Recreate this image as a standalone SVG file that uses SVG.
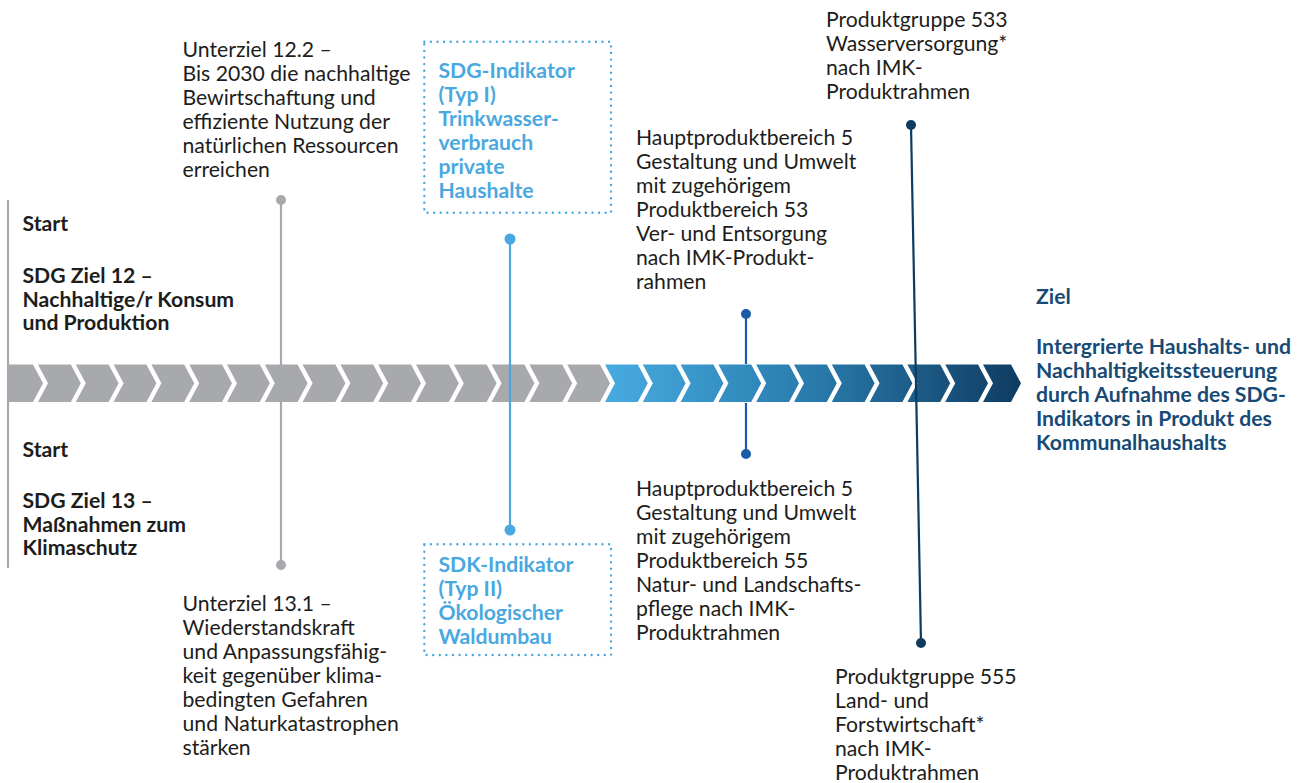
<svg xmlns="http://www.w3.org/2000/svg" width="1306" height="783" viewBox="0 0 1306 783">
<defs>
<style>
.t{font-family:Lato,"Liberation Sans",sans-serif;font-size:21.2px;fill:#1d1d1b}
.b{font-weight:700}
.lb{fill:#4aa8e0;font-weight:700}
.nv{fill:#174a75;font-weight:700}
.box{fill:none;stroke:#4aa8e0;stroke-width:2.4;stroke-dasharray:0 6.6;stroke-linecap:round}
.gray{fill:#a7a9ac}
</style>
<linearGradient id="gb" gradientUnits="userSpaceOnUse" x1="612" y1="0" x2="1026" y2="0">
<stop offset="0" stop-color="#46aadf"/>
<stop offset="0.5" stop-color="#2879aa"/>
<stop offset="1" stop-color="#0f3a5f"/>
</linearGradient>
</defs>
<rect width="1306" height="783" fill="#ffffff"/>

<g id="band">
<g class="gray">
<path d="M8 364.5H33L43 383.3L33 402H8Z"/>
<path d="M38 364.5H70.8L80.8 383.3L70.8 402H38L48 383.3Z"/>
<path d="M75.8 364.5H108.6L118.6 383.3L108.6 402H75.8L85.8 383.3Z"/>
<path d="M113.6 364.5H146.4L156.4 383.3L146.4 402H113.6L123.6 383.3Z"/>
<path d="M151.4 364.5H184.2L194.2 383.3L184.2 402H151.4L161.4 383.3Z"/>
<path d="M189.2 364.5H222L232 383.3L222 402H189.2L199.2 383.3Z"/>
<path d="M227 364.5H259.8L269.8 383.3L259.8 402H227L237 383.3Z"/>
<path d="M264.8 364.5H297.6L307.6 383.3L297.6 402H264.8L274.8 383.3Z"/>
<path d="M302.6 364.5H335.4L345.4 383.3L335.4 402H302.6L312.6 383.3Z"/>
<path d="M340.4 364.5H373.2L383.2 383.3L373.2 402H340.4L350.4 383.3Z"/>
<path d="M378.2 364.5H411L421 383.3L411 402H378.2L388.2 383.3Z"/>
<path d="M416 364.5H448.8L458.8 383.3L448.8 402H416L426 383.3Z"/>
<path d="M453.8 364.5H486.6L496.6 383.3L486.6 402H453.8L463.8 383.3Z"/>
<path d="M491.6 364.5H524.4L534.4 383.3L524.4 402H491.6L501.6 383.3Z"/>
<path d="M529.4 364.5H562.2L572.2 383.3L562.2 402H529.4L539.4 383.3Z"/>
<path d="M567.2 364.5H600L610 383.3L600 402H567.2L577.2 383.3Z"/>
</g>
<g fill="url(#gb)">
<path d="M605 364.5H637.8L647.8 383.3L637.8 402H605L615 383.3Z"/>
<path d="M642.8 364.5H675.6L685.6 383.3L675.6 402H642.8L652.8 383.3Z"/>
<path d="M680.6 364.5H713.4L723.4 383.3L713.4 402H680.6L690.6 383.3Z"/>
<path d="M718.4 364.5H751.2L761.2 383.3L751.2 402H718.4L728.4 383.3Z"/>
<path d="M756.2 364.5H789L799 383.3L789 402H756.2L766.2 383.3Z"/>
<path d="M794 364.5H826.8L836.8 383.3L826.8 402H794L804 383.3Z"/>
<path d="M831.8 364.5H864.6L874.6 383.3L864.6 402H831.8L841.8 383.3Z"/>
<path d="M869.6 364.5H902.4L912.4 383.3L902.4 402H869.6L879.6 383.3Z"/>
<path d="M907.4 364.5H940.2L950.2 383.3L940.2 402H907.4L917.4 383.3Z"/>
<path d="M945.2 364.5H978L988 383.3L978 402H945.2L955.2 383.3Z"/>
<path d="M983 364.5H1011L1021 383.3L1011 402H983L993 383.3Z"/>
</g>
</g>

<g id="connectors" fill="none" stroke-width="2.2">
<line x1="8" y1="200" x2="8" y2="568" stroke="#a7a9ac"/>
<line x1="281" y1="200" x2="281" y2="565" stroke="#a7a9ac"/>
<line x1="510" y1="239" x2="510" y2="530" stroke="#4aa8e0"/>
<line x1="746" y1="314" x2="746" y2="364" stroke="#1c5ca6"/>
<line x1="746" y1="403" x2="746" y2="454" stroke="#1c5ca6"/>
<line x1="911" y1="125" x2="921" y2="643" stroke="#0f3b5f"/>
<circle cx="281" cy="200" r="5" fill="#a7a9ac" stroke="none"/>
<circle cx="281" cy="565" r="5" fill="#a7a9ac" stroke="none"/>
<circle cx="510" cy="239" r="5.5" fill="#4aa8e0" stroke="none"/>
<circle cx="510" cy="530" r="5.5" fill="#4aa8e0" stroke="none"/>
<circle cx="746" cy="314" r="5" fill="#1c5ca6" stroke="none"/>
<circle cx="746" cy="454" r="5" fill="#1c5ca6" stroke="none"/>
<circle cx="911" cy="125" r="5" fill="#0f3b5f" stroke="none"/>
<circle cx="921" cy="643" r="5" fill="#0f3b5f" stroke="none"/>
</g>

<g id="start12">
<text class="t b" x="22.5" y="231">Start</text>
<text class="t b" x="22.5" y="283">SDG Ziel 12 –</text>
<text class="t b" x="22.5" y="306.5">Nachhaltige/r Konsum</text>
<text class="t b" x="22.5" y="330">und Produktion</text>
</g>

<g id="start13">
<text class="t b" x="22.5" y="457">Start</text>
<text class="t b" x="22.5" y="508">SDG Ziel 13 –</text>
<text class="t b" x="22.5" y="531.5">Maßnahmen zum</text>
<text class="t b" x="22.5" y="555">Klimaschutz</text>
</g>

<g id="unterziel122">
<text class="t" x="182.5" y="56.5">Unterziel 12.2 –</text>
<text class="t" x="182.5" y="80.5">Bis 2030 die nachhaltige</text>
<text class="t" x="182.5" y="104.5">Bewirtschaftung und</text>
<text class="t" x="182.5" y="128.5">effiziente Nutzung der</text>
<text class="t" x="182.5" y="152.5">natürlichen Ressourcen</text>
<text class="t" x="182.5" y="176.5">erreichen</text>
</g>

<g id="unterziel131">
<text class="t" x="182.5" y="611">Unterziel 13.1 –</text>
<text class="t" x="182.5" y="635">Wiederstandskraft</text>
<text class="t" x="182.5" y="659">und Anpassungsfähig-</text>
<text class="t" x="182.5" y="683">keit gegenüber klima-</text>
<text class="t" x="182.5" y="707">bedingten Gefahren</text>
<text class="t" x="182.5" y="731">und Naturkatastrophen</text>
<text class="t" x="182.5" y="755">stärken</text>
</g>

<g id="sdg-indikator">
<rect class="box" x="424.3" y="41.7" width="186.7" height="171"/>
<text class="t lb" x="438.5" y="78.3">SDG-Indikator</text>
<text class="t lb" x="438.5" y="102">(Typ I)</text>
<text class="t lb" x="438.5" y="126">Trinkwasser-</text>
<text class="t lb" x="438.5" y="150">verbrauch</text>
<text class="t lb" x="438.5" y="174">private</text>
<text class="t lb" x="438.5" y="198">Haushalte</text>
</g>

<g id="sdk-indikator">
<rect class="box" x="424.3" y="544.3" width="186.7" height="110.7"/>
<text class="t lb" x="438.5" y="571.5">SDK-Indikator</text>
<text class="t lb" x="438.5" y="595.5">(Typ II)</text>
<text class="t lb" x="438.5" y="619.5">Ökologischer</text>
<text class="t lb" x="438.5" y="643.5">Waldumbau</text>
</g>

<g id="hpb5-53">
<text class="t" x="636" y="145">Hauptproduktbereich 5</text>
<text class="t" x="636" y="169">Gestaltung und Umwelt</text>
<text class="t" x="636" y="193">mit zugehörigem</text>
<text class="t" x="636" y="217">Produktbereich 53</text>
<text class="t" x="636" y="241">Ver- und Entsorgung</text>
<text class="t" x="636" y="265">nach IMK-Produkt-</text>
<text class="t" x="636" y="289">rahmen</text>
</g>

<g id="hpb5-55">
<text class="t" x="636" y="496">Hauptproduktbereich 5</text>
<text class="t" x="636" y="520">Gestaltung und Umwelt</text>
<text class="t" x="636" y="544">mit zugehörigem</text>
<text class="t" x="636" y="568">Produktbereich 55</text>
<text class="t" x="636" y="592">Natur- und Landschafts-</text>
<text class="t" x="636" y="616">pflege nach IMK-</text>
<text class="t" x="636" y="640">Produktrahmen</text>
</g>

<g id="pg533">
<text class="t" x="826" y="27">Produktgruppe 533</text>
<text class="t" x="826" y="51">Wasserversorgung*</text>
<text class="t" x="826" y="75">nach IMK-</text>
<text class="t" x="826" y="99">Produktrahmen</text>
</g>

<g id="pg555">
<text class="t" x="835" y="684">Produktgruppe 555</text>
<text class="t" x="835" y="708">Land- und</text>
<text class="t" x="835" y="732">Forstwirtschaft*</text>
<text class="t" x="835" y="756">nach IMK-</text>
<text class="t" x="835" y="780">Produktrahmen</text>
</g>

<g id="ziel">
<text class="t nv" x="1036" y="304">Ziel</text>
<text class="t nv" x="1036" y="354">Intergrierte Haushalts- und</text>
<text class="t nv" x="1036" y="378">Nachhaltigkeitssteuerung</text>
<text class="t nv" x="1036" y="402">durch Aufnahme des SDG-</text>
<text class="t nv" x="1036" y="426">Indikators in Produkt des</text>
<text class="t nv" x="1036" y="450">Kommunalhaushalts</text>
</g>
</svg>
